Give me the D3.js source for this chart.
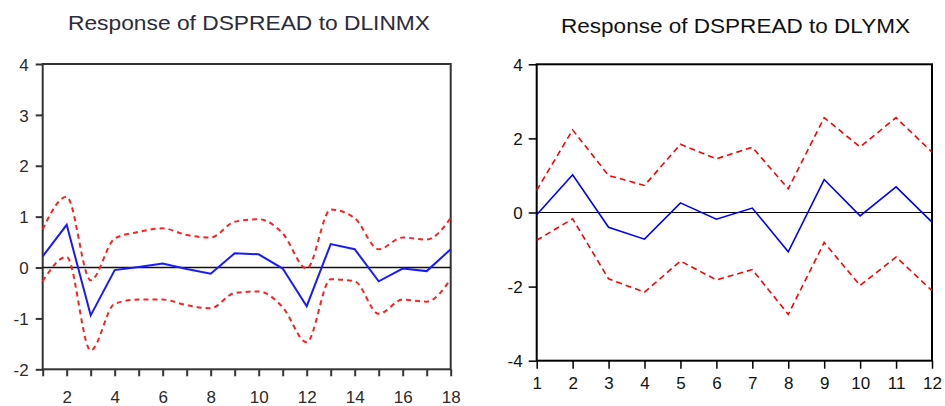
<!DOCTYPE html>
<html>
<head>
<meta charset="utf-8">
<script src="https://cdn.jsdelivr.net/npm/d3@7"></script>
<style>
  html, body { margin: 0; padding: 0; background: #fff; }
  svg { display: block; }
</style>
</head>
<body>
<svg id="chart" width="945" height="406"></svg>
<script>
// Impulse responses of DSPREAD with +/- 2 S.E. bands

// Panel 1: shock to DLINMX
const linmxPeriods = [1, 2, 3, 4, 5, 6, 7, 8, 9, 10, 11, 12, 13, 14, 15, 16, 17, 18];
const linmxResponse = [0.22, 0.84, -0.94, -0.05, 0.01, 0.08, -0.03, -0.12, 0.28, 0.26, -0.02, -0.76, 0.46, 0.36, -0.27, -0.02, -0.07, 0.36];
const linmxUpper = [0.75, 1.39, -0.25, 0.57, 0.70, 0.77, 0.64, 0.59, 0.90, 0.95, 0.67, -0.02, 1.14, 0.97, 0.36, 0.59, 0.55, 0.97];
const linmxLower = [-0.27, 0.21, -1.63, -0.71, -0.63, -0.63, -0.74, -0.80, -0.50, -0.47, -0.78, -1.47, -0.23, -0.27, -0.91, -0.63, -0.67, -0.23];
const linmxYTicks = [-2, -1, 0, 1, 2, 3, 4];
const linmxXLabels = [2, 4, 6, 8, 10, 12, 14, 16, 18];

// Panel 2: shock to DLYMX
const lymxPeriods = [1, 2, 3, 4, 5, 6, 7, 8, 9, 10, 11, 12];
const lymxResponse = [-0.06, 1.02, -0.40, -0.72, 0.26, -0.18, 0.12, -1.06, 0.89, -0.09, 0.69, -0.26];
const lymxUpper = [0.60, 2.23, 1.00, 0.73, 1.84, 1.45, 1.76, 0.64, 2.56, 1.77, 2.56, 1.63];
const lymxLower = [-0.75, -0.17, -1.79, -2.15, -1.31, -1.82, -1.54, -2.75, -0.81, -1.97, -1.20, -2.11];
const lymxYTicks = [-4, -2, 0, 2, 4];
const lymxXLabels = [1, 2, 3, 4, 5, 6, 7, 8, 9, 10, 11, 12];

const svg = d3.select("#chart");
const FONT = "Liberation Sans, Arial, sans-serif";
const plain = d => String(d);   // hyphen-minus, as in the EViews output

// ---------- Panel 1 ----------
(function () {
  const g = svg.append("g");
  const x = d3.scaleLinear().domain([1, 18]).range([42.7, 450.7]);
  const y = d3.scaleLinear().domain([-2, 4]).range([369.3, 64]);
  const ink = "#333";

  g.append("text")
    .attr("x", 249).attr("y", 30)
    .attr("text-anchor", "middle")
    .attr("font-family", FONT)
    .attr("font-size", 21)
    .attr("textLength", 362).attr("lengthAdjust", "spacingAndGlyphs")
    .attr("fill", "#2b2b3a")
    .text("Response of DSPREAD to DLINMX");

  // y axis with labels
  const yAxis = d3.axisLeft(y).tickValues(linmxYTicks).tickSize(7).tickPadding(7).tickFormat(plain);
  const ya = g.append("g").attr("transform", `translate(${x(1)},0)`).call(yAxis);
  ya.select(".domain").remove();
  ya.selectAll("line").attr("stroke", ink).attr("stroke-width", 2);
  ya.selectAll("text").attr("font-family", FONT)
    .attr("font-size", 17).attr("fill", "#2a2a2a").attr("dy", "0.36em");

  // x axis: ticks at every period, labels at even periods
  const xAxis = d3.axisBottom(x).tickValues(linmxPeriods).tickSize(7).tickPadding(15)
    .tickFormat(d => linmxXLabels.includes(d) ? plain(d) : "");
  const xa = g.append("g").attr("transform", `translate(0,${y(-2)})`).call(xAxis);
  xa.select(".domain").remove();
  xa.selectAll("line").attr("stroke", ink).attr("stroke-width", 2);
  xa.selectAll("text").attr("font-family", FONT)
    .attr("font-size", 17).attr("fill", "#2a2a2a");

  // frame
  g.append("rect")
    .attr("x", x(1)).attr("y", y(4))
    .attr("width", x(18) - x(1)).attr("height", y(-2) - y(4))
    .attr("fill", "none").attr("stroke", ink).attr("stroke-width", 2);

  // zero line
  g.append("line")
    .attr("x1", x(1)).attr("x2", x(18)).attr("y1", y(0)).attr("y2", y(0))
    .attr("stroke", "#111").attr("stroke-width", 1.6);

  const band = d3.line().x((d, i) => x(linmxPeriods[i])).y(d => y(d)).curve(d3.curveMonotoneX);
  const resp = d3.line().x((d, i) => x(linmxPeriods[i])).y(d => y(d));

  [linmxUpper, linmxLower].forEach(s => {
    g.append("path").attr("d", band(s))
      .attr("fill", "none").attr("stroke", "#ff2020").attr("stroke-width", 2)
      .attr("stroke-dasharray", "5,4");
  });
  g.append("path").attr("d", resp(linmxResponse))
    .attr("fill", "none").attr("stroke", "#1a1aff").attr("stroke-width", 2);
})();

// ---------- Panel 2 ----------
(function () {
  const g = svg.append("g");
  const x = d3.scaleLinear().domain([1, 12]).range([536.7, 932]);
  const y = d3.scaleLinear().domain([-4, 4]).range([360.7, 64.3]);

  g.append("text")
    .attr("x", 735.5).attr("y", 33)
    .attr("text-anchor", "middle")
    .attr("font-family", FONT)
    .attr("font-size", 21)
    .attr("textLength", 349).attr("lengthAdjust", "spacingAndGlyphs")
    .attr("fill", "#111")
    .text("Response of DSPREAD to DLYMX");

  const yAxis = d3.axisLeft(y).tickValues(lymxYTicks).tickSize(8).tickPadding(6).tickFormat(plain);
  const ya = g.append("g").attr("transform", `translate(${x(1)},0)`).call(yAxis);
  ya.select(".domain").remove();
  ya.selectAll("line").attr("stroke", "#000").attr("stroke-width", 1.5);
  ya.selectAll("text").attr("font-family", FONT)
    .attr("font-size", 17).attr("fill", "#111").attr("dy", "0.36em");

  const xAxis = d3.axisBottom(x).tickValues(lymxXLabels).tickSize(8).tickPadding(8).tickFormat(plain);
  const xa = g.append("g").attr("transform", `translate(0,${y(-4)})`).call(xAxis);
  xa.select(".domain").remove();
  xa.selectAll("line").attr("stroke", "#000").attr("stroke-width", 1.5);
  xa.selectAll("text").attr("font-family", FONT)
    .attr("font-size", 17).attr("fill", "#111");

  g.append("rect")
    .attr("x", x(1)).attr("y", y(4))
    .attr("width", x(12) - x(1)).attr("height", y(-4) - y(4))
    .attr("fill", "none").attr("stroke", "#000").attr("stroke-width", 2);

  g.append("line")
    .attr("x1", x(1)).attr("x2", x(12)).attr("y1", y(0)).attr("y2", y(0))
    .attr("stroke", "#000").attr("stroke-width", 1.2);

  const line = d3.line().x((d, i) => x(lymxPeriods[i])).y(d => y(d));

  [lymxUpper, lymxLower].forEach(s => {
    g.append("path").attr("d", line(s))
      .attr("fill", "none").attr("stroke", "#ff0000").attr("stroke-width", 1.6)
      .attr("stroke-dasharray", "6,4");
  });
  g.append("path").attr("d", line(lymxResponse))
    .attr("fill", "none").attr("stroke", "#0000ff").attr("stroke-width", 1.6);
})();
</script>
</body>
</html>
